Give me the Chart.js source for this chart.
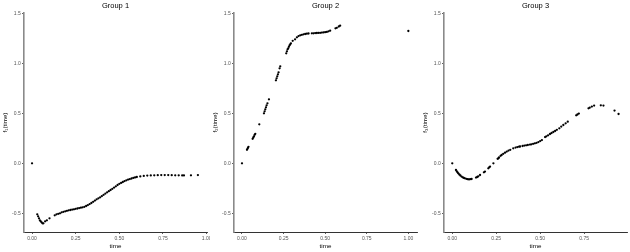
<!DOCTYPE html>
<html>
<head>
<meta charset="utf-8">
<script src="https://cdn.jsdelivr.net/npm/chart.js@4.4.1/dist/chart.umd.min.js"></script>
<style>
  html, body { margin: 0; padding: 0; background: #fff; }
  #wrap { position: relative; width: 630px; height: 252px; overflow: hidden; }
  .panel { position: absolute; top: 0; width: 210px; height: 252px; }
</style>
</head>
<body>
<div id="wrap">
  <div class="panel" style="left:0px"><canvas id="c1" width="210" height="252"></canvas></div>
  <div class="panel" style="left:210px"><canvas id="c2" width="210" height="252"></canvas></div>
  <div class="panel" style="left:420px"><canvas id="c3" width="210" height="252"></canvas></div>
</div>
<script>
// ---------------- data ----------------
const groupTitles = ['Group 1', 'Group 2', 'Group 3'];
const yTitles = ['f\u2081(time)', 'f\u2082(time)', 'f\u2083(time)'];
const xTitle = 'time';

const yTicks = [-0.5, 0.0, 0.5, 1.0, 1.5];
const xTicks1 = [0, 0.25, 0.5, 0.75, 1.0];
const xTicks2 = [0, 0.25, 0.5, 0.75, 1.0];
const xTicks3 = [0, 0.25, 0.5, 0.75];

const time1 = [0, 0.030, 0.035, 0.040, 0.045, 0.050, 0.055, 0.060, 0.065, 0.075, 0.085, 0.100,
  0.130, 0.14, 0.15, 0.16, 0.17, 0.18, 0.19, 0.20, 0.21, 0.22, 0.23, 0.24, 0.25, 0.26, 0.27, 0.28, 0.29,
  0.30, 0.31, 0.32, 0.33, 0.34, 0.35, 0.36, 0.37, 0.38, 0.39, 0.40, 0.41, 0.42, 0.43, 0.44, 0.45, 0.46,
  0.47, 0.48, 0.49, 0.50, 0.51, 0.52, 0.53, 0.54, 0.55, 0.56, 0.57, 0.58, 0.59, 0.60, 0.62, 0.64, 0.66,
  0.68, 0.70, 0.72, 0.74, 0.76, 0.78, 0.80, 0.82, 0.84, 0.86, 0.87, 0.91, 0.95];
const f1 = [0, -0.51, -0.53, -0.55, -0.57, -0.58, -0.59, -0.60, -0.60, -0.58, -0.57, -0.55,
  -0.52, -0.51, -0.505, -0.50, -0.49, -0.485, -0.48, -0.475, -0.47, -0.467, -0.463, -0.46, -0.455, -0.452, -0.448, -0.444, -0.44,
  -0.435, -0.427, -0.418, -0.408, -0.397, -0.385, -0.373, -0.36, -0.35, -0.34, -0.328, -0.315, -0.303, -0.29, -0.279, -0.267, -0.255,
  -0.243, -0.23, -0.217, -0.205, -0.196, -0.187, -0.178, -0.17, -0.163, -0.158, -0.152, -0.146, -0.141, -0.137, -0.131, -0.126, -0.123,
  -0.121, -0.12, -0.119, -0.118, -0.118, -0.118, -0.119, -0.12, -0.12, -0.121, -0.121, -0.12, -0.118];

const time2 = [0, 0.030, 0.033, 0.036, 0.039, 0.064, 0.068, 0.072, 0.076, 0.080, 0.104,
  0.132, 0.136, 0.140, 0.144, 0.148, 0.153, 0.162, 0.204, 0.208, 0.212, 0.216, 0.220, 0.226, 0.230,
  0.266, 0.270, 0.274, 0.278, 0.282, 0.286, 0.290, 0.294, 0.305, 0.319, 0.33, 0.34, 0.35, 0.36, 0.37,
  0.38, 0.39, 0.40, 0.42, 0.43, 0.44, 0.45, 0.46, 0.47, 0.48, 0.49, 0.50, 0.51, 0.52, 0.53,
  0.562, 0.570, 0.582, 0.590, 1.0];
const f2 = [0, 0.135, 0.145, 0.155, 0.165, 0.245, 0.258, 0.27, 0.285, 0.295, 0.39,
  0.50, 0.52, 0.54, 0.56, 0.58, 0.60, 0.64, 0.83, 0.85, 0.87, 0.89, 0.91, 0.95, 0.97,
  1.10, 1.12, 1.14, 1.15, 1.165, 1.18, 1.19, 1.20, 1.225, 1.24, 1.26, 1.272, 1.28, 1.285, 1.29,
  1.293, 1.296, 1.298, 1.30, 1.30, 1.302, 1.303, 1.304, 1.305, 1.307, 1.309, 1.311, 1.314, 1.32, 1.326,
  1.35, 1.355, 1.368, 1.376, 1.323];

const time3 = [0, 0.021, 0.026, 0.030, 0.034, 0.040, 0.046, 0.053, 0.060, 0.066, 0.072, 0.080, 0.086,
  0.091, 0.098, 0.104, 0.110, 0.135, 0.142, 0.148, 0.158, 0.180, 0.186, 0.205, 0.210, 0.215, 0.234,
  0.258, 0.262, 0.266, 0.275, 0.281, 0.29, 0.30, 0.31, 0.32, 0.33, 0.347, 0.36, 0.37, 0.38, 0.386,
  0.40, 0.41, 0.42, 0.43, 0.442, 0.45, 0.46, 0.47, 0.48, 0.49, 0.50, 0.51, 0.528, 0.535, 0.545,
  0.556, 0.565, 0.575, 0.585, 0.595, 0.609, 0.62, 0.632, 0.645, 0.657, 0.705, 0.712, 0.72, 0.775,
  0.782, 0.794, 0.807, 0.845, 0.86, 0.923, 0.946];
const f3 = [0, -0.067, -0.08, -0.09, -0.10, -0.112, -0.122, -0.133, -0.14, -0.146, -0.15, -0.155, -0.158,
  -0.16, -0.16, -0.158, -0.157, -0.143, -0.137, -0.13, -0.117, -0.09, -0.083, -0.05, -0.04, -0.033, 0,
  0.045, 0.05, 0.058, 0.075, 0.083, 0.095, 0.106, 0.117, 0.127, 0.135, 0.15, 0.157, 0.162, 0.166, 0.168,
  0.173, 0.177, 0.18, 0.183, 0.187, 0.19, 0.195, 0.2, 0.205, 0.212, 0.222, 0.232, 0.262, 0.27, 0.28,
  0.293, 0.303, 0.313, 0.323, 0.335, 0.35, 0.367, 0.383, 0.4, 0.416, 0.48, 0.488, 0.497, 0.55,
  0.556, 0.567, 0.577, 0.58, 0.577, 0.527, 0.493];

// ---------------- chart building ----------------
const FONT = "'Liberation Sans', Arial, Helvetica, sans-serif";

function makePanel(canvasId, idx, xs, ys, xTicks, xMin, xMax) {
  const pts = xs.map((t, i) => ({ x: t, y: ys[i] }));
  new Chart(document.getElementById(canvasId), {
    type: 'scatter',
    data: {
      datasets: [{
        data: pts,
        pointRadius: 1.15,
        pointHoverRadius: 1.15,
        backgroundColor: '#000',
        borderWidth: 0
      }]
    },
    options: {
      responsive: false,
      animation: false,
      events: [],
      layout: { padding: { top: 0, right: 3, bottom: 0, left: 0 } },
      plugins: {
        legend: { display: false },
        tooltip: { enabled: false },
        title: {
          display: true,
          text: groupTitles[idx],
          fullSize: false,
          color: '#000',
          font: { family: FONT, size: 7.5, weight: 'normal', lineHeight: 1.2 },
          padding: { top: 1.5, bottom: 2.5 }
        }
      },
      scales: {
        x: {
          type: 'linear',
          min: xMin, max: xMax,
          afterBuildTicks: s => { s.ticks = xTicks.map(v => ({ value: v })); },
          afterFit: s => { s.height = 20; s.paddingLeft = 0; s.paddingRight = 0; },
          ticks: {
            autoSkip: false, maxRotation: 0, minRotation: 0,
            padding: 2,
            color: '#555',
            font: { family: FONT, size: 5 },
            callback: v => Number(v).toFixed(2)
          },
          grid: { display: true, drawOnChartArea: false, drawTicks: true, tickLength: 2, color: '#333', lineWidth: 0.8 },
          border: { display: true, color: '#333', width: 1 },
          title: {
            display: true, text: xTitle, color: '#000',
            font: { family: FONT, size: 6.25 },
            padding: { top: 0, bottom: 2.2 }
          }
        },
        y: {
          type: 'linear',
          min: -0.687, max: 1.503,
          afterBuildTicks: s => { s.ticks = yTicks.map(v => ({ value: v })); },
          afterFit: s => { s.width = 24; s.paddingTop = 0; s.paddingBottom = 0; },
          ticks: {
            autoSkip: false,
            padding: 1.3,
            color: '#555',
            font: { family: FONT, size: 5 },
            callback: v => Number(v).toFixed(1)
          },
          grid: { display: true, drawOnChartArea: false, drawTicks: true, tickLength: 2, color: '#333', lineWidth: 0.8 },
          border: { display: true, color: '#8a8a8a', width: 1.6 },
          title: {
            display: true, text: yTitles[idx], color: '#000',
            font: { family: FONT, size: 6.25 },
            padding: { top: 1.2, bottom: 0 }
          }
        }
      }
    }
  });
}

makePanel('c1', 0, time1, f1, xTicks1, -0.046, 1.002);
makePanel('c2', 1, time2, f2, xTicks2, -0.048, 1.052);
makePanel('c3', 2, time3, f3, xTicks3, -0.047, 0.994);
</script>
</body>
</html>
